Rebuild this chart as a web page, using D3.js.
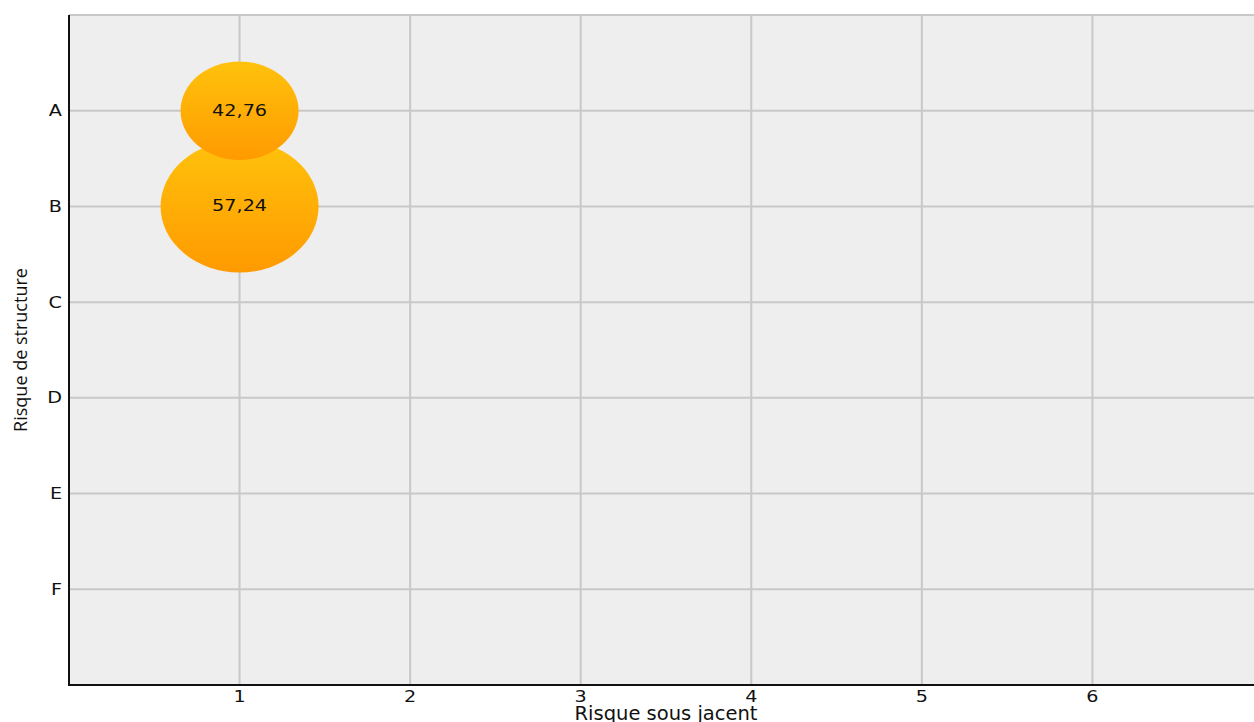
<!DOCTYPE html>
<html>
<head>
<meta charset="utf-8">
<script src="https://cdn.jsdelivr.net/npm/d3@7"></script>
<style>
    body { margin: 0; background: #fff; }
    svg { display: block; }
    .tick-label { font-family: "DejaVu Sans", sans-serif; font-size: 16px; fill: #111; }
    .bubble-label { font-family: "DejaVu Sans", sans-serif; font-size: 16px; fill: #111; }
</style>
</head>
<body>
<div class="chart"></div>
<script>
// categories on the vertical axis (top to bottom)
const rowLabels = ['A', 'B', 'C', 'D', 'E', 'F'];
// ticks of the horizontal axis
const colTicks = [1, 2, 3, 4, 5, 6];
// bubbles: column, row, value
const bubbleX = [1, 1];
const bubbleRow = ['B', 'A'];
const bubbleValue = [57.24, 42.76];

const width = 1254;
const height = 722;
const margin = {left: 69, top: 15, right: -9, bottom: 37};
// the picture is stretched sideways, text included
const stretch = 1.2;

let svg = d3.select(".chart").append("svg")
    .attr("width", width)
    .attr("height", height);

const x = d3.scaleLinear()
    .domain([0, 7])
    .range([margin.left, width - margin.right]);

const y = d3.scaleLinear()
    .domain([0, rowLabels.length + 1])
    .range([margin.top, height - margin.bottom]);

const rowIndex = r => rowLabels.indexOf(r) + 1;

const defs = svg.append("defs");
const grad = defs.append("linearGradient")
    .attr("id", "bubbleGrad")
    .attr("x1", 0).attr("y1", 0).attr("x2", 0).attr("y2", 1);
grad.append("stop").attr("offset", "0%").attr("stop-color", "#ffc20c");
grad.append("stop").attr("offset", "100%").attr("stop-color", "#ff9a00");

// plot background
svg.append("rect")
    .attr("x", x(0))
    .attr("y", y(0))
    .attr("width", x(7) - x(0))
    .attr("height", y(7) - y(0))
    .attr("fill", "#eeeeee");

// grid
let grid = svg.append("g").attr("stroke", "#c8c8c8").attr("stroke-width", 2);
grid.selectAll(".vline")
    .data(colTicks)
    .join("line")
    .attr("x1", d => x(d)).attr("x2", d => x(d))
    .attr("y1", y(0)).attr("y2", y(7));
grid.selectAll(".hline")
    .data(d3.range(0, rowLabels.length + 1))
    .join("line")
    .attr("x1", x(0)).attr("x2", x(7))
    .attr("y1", d => y(d)).attr("y2", d => y(d));

// bubbles (radius proportional to value)
const rx = d3.scaleLinear().domain([0, 57.24]).range([0, 79]);
const ry = d3.scaleLinear().domain([0, 57.24]).range([0, 66]);

let bubbles = svg.append("g")
    .selectAll("g")
    .data(bubbleValue.map((v, i) => ({x: bubbleX[i], row: bubbleRow[i], value: v})))
    .join("g");

bubbles.append("ellipse")
    .attr("cx", d => x(d.x))
    .attr("cy", d => y(rowIndex(d.row)))
    .attr("rx", d => rx(d.value))
    .attr("ry", d => ry(d.value))
    .attr("fill", "url(#bubbleGrad)");

bubbles.append("text")
    .classed("bubble-label", true)
    .attr("transform", d => `translate(${x(d.x)},${y(rowIndex(d.row))}) scale(${stretch},1)`)
    .attr("dy", "0.3em")
    .attr("text-anchor", "middle")
    .text(d => d.value.toFixed(2).replace('.', ','));

// axes
svg.append("line")
    .attr("x1", x(0)).attr("x2", x(0))
    .attr("y1", y(0)).attr("y2", y(7) + 1)
    .attr("stroke", "#111").attr("stroke-width", 2);
svg.append("line")
    .attr("x1", x(0) - 1).attr("x2", x(7))
    .attr("y1", y(7)).attr("y2", y(7))
    .attr("stroke", "#111").attr("stroke-width", 2);

svg.append("g")
    .selectAll("text")
    .data(colTicks)
    .join("text")
    .classed("tick-label", true)
    .attr("transform", d => `translate(${x(d)},${y(7) + 16.5}) scale(${stretch},1)`)
    .attr("text-anchor", "middle")
    .text(d => d);

svg.append("g")
    .selectAll("text")
    .data(rowLabels)
    .join("text")
    .classed("tick-label", true)
    .attr("transform", (d, i) => `translate(${x(0) - 7},${y(i + 1)}) scale(${stretch},1)`)
    .attr("dy", "0.35em")
    .attr("text-anchor", "end")
    .text(d => d);

svg.append("text")
    .attr("x", (x(0) + x(7)) / 2)
    .attr("y", height - 2)
    .attr("text-anchor", "middle")
    .style("font-family", "DejaVu Sans, sans-serif")
    .style("font-size", "19.5px")
    .attr("fill", "#111")
    .text("Risque sous jacent");

svg.append("text")
    .attr("transform", `translate(27, ${(y(0) + y(7)) / 2}) rotate(-90)`)
    .attr("text-anchor", "middle")
    .style("font-family", "Open Sans, sans-serif")
    .style("font-size", "18px")
    .attr("fill", "#111")
    .text("Risque de structure");
</script>
</body>
</html>
